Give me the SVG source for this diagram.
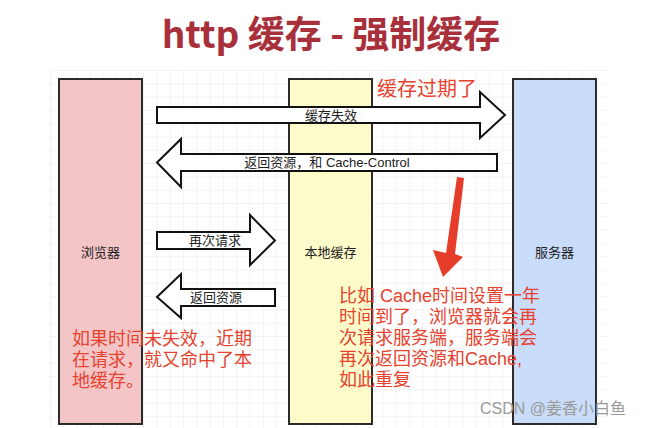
<svg xmlns="http://www.w3.org/2000/svg" width="666" height="428" viewBox="0 0 666 428">
<defs>
<pattern id="grid" x="50" y="70" width="13.3" height="13.3" patternUnits="userSpaceOnUse">
<path d="M0 0 H13.3 M0 0 V13.3" fill="none" stroke="#e8e8e8" stroke-width="1"/>
</pattern>
<style>
.box{stroke:#2b2b2b;stroke-width:2}
.arrow{fill:#fff;stroke:#111;stroke-width:2;stroke-linejoin:miter}
.lbl{font-family:"Liberation Sans","Noto Sans CJK SC",sans-serif;font-size:13px;fill:#222;text-anchor:middle}
.note{font-family:"Liberation Sans","Noto Sans CJK SC",sans-serif;font-size:18px;fill:#e5432f}
</style>
</defs>
<rect width="666" height="428" fill="#fff"/>
<rect x="50" y="70" width="557" height="358" fill="url(#grid)"/>
<text x="331" y="48" text-anchor="middle" font-family="'Noto Sans CJK SC',sans-serif" font-size="37" font-weight="bold" fill="#a8303b">http 缓存 - 强制缓存</text>

<g id="browser">
<rect class="box" x="59" y="79" width="83" height="345" fill="#f4c5c7"/>
<text class="lbl" x="100.5" y="257">浏览器</text>
</g>
<g id="cache">
<rect class="box" x="289" y="79" width="83" height="345" fill="#fefbcb"/>
<text class="lbl" x="330.5" y="257">本地缓存</text>
</g>
<g id="server">
<rect class="box" x="513" y="79" width="83" height="345" fill="#c9dcfa"/>
<text class="lbl" x="554.5" y="257">服务器</text>
</g>

<g id="connectors">
<g id="a1">
<polygon class="arrow" points="157,107 480,107 480,92 505,115 480,138 480,123 157,123"/>
<text class="lbl" x="331" y="120">缓存失效</text>
</g>
<g id="a2">
<polygon class="arrow" points="497,154 181,154 181,139 157,162.5 181,187 181,171 497,171"/>
<text class="lbl" x="327" y="167">返回资源，和 Cache-Control</text>
</g>
<g id="a3">
<polygon class="arrow" points="157,232 250,232 250,215 275,240.5 250,265 250,249 157,249"/>
<text class="lbl" x="215" y="245">再次请求</text>
</g>
<g id="a4">
<polygon class="arrow" points="275,289 181,289 181,274 157,297 181,318 181,306 275,306"/>
<text class="lbl" x="216" y="302">返回资源</text>
</g>
<polygon id="red-arrow" points="457,177 464,178 455,254 463,257 443,277 433,250 446,253" fill="#e63c2a"/>
</g>

<text class="note" x="377" y="96" style="font-size:20px">缓存过期了</text>
<text class="note" x="339" y="302">比如 Cache时间设置一年</text>
<text class="note" x="339" y="323">时间到了，浏览器就会再</text>
<text class="note" x="339" y="344">次请求服务端，服务端会</text>
<text class="note" x="339" y="365">再次返回资源和Cache,</text>
<text class="note" x="339" y="386">如此重复</text>

<text class="note" x="72" y="345">如果时间未失效，近期</text>
<text class="note" x="72" y="366">在请求，就又命中了本</text>
<text class="note" x="72" y="387">地缓存。</text>

<text x="480" y="414" font-family="Liberation Sans,'Noto Sans CJK SC',sans-serif" font-size="16" fill="#9a9a9a">CSDN @姜香小白鱼</text>
</svg>
